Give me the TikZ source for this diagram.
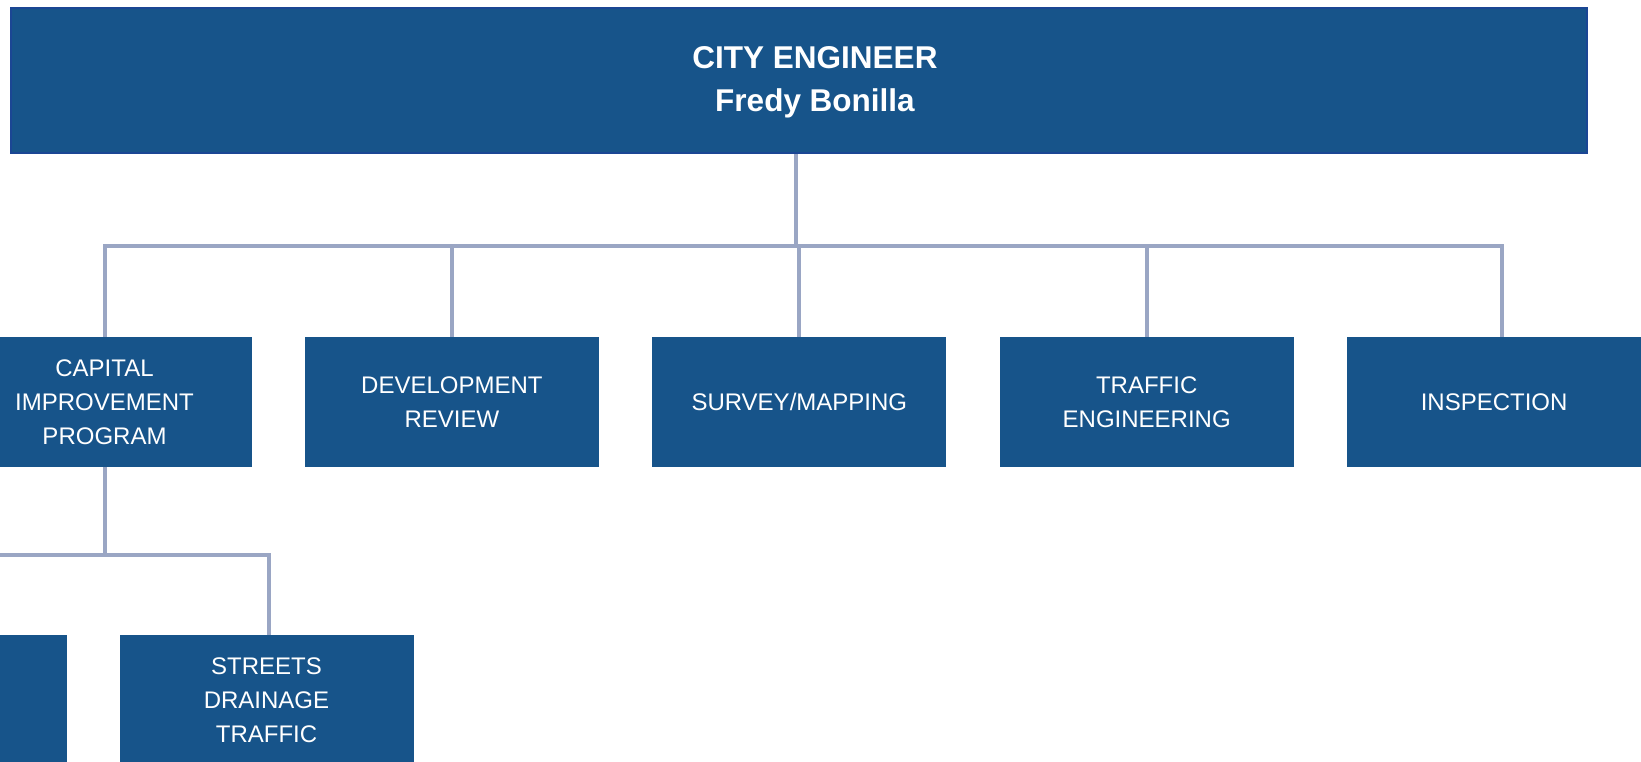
\documentclass[tikz,border=0pt]{standalone}
\usepackage{fontspec}
\setmainfont{Liberation Sans}
\usetikzlibrary{positioning}
\definecolor{boxblue}{RGB}{23,84,138}
\definecolor{edgeblue}{RGB}{27,70,148}
\definecolor{linegray}{RGB}{154,166,196}
\tikzset{
unit/.style={fill=boxblue,text=white,minimum width=294pt,minimum height=130pt,inner sep=0pt,align=center,font=\fontsize{24}{34}\selectfont},
link/.style={draw=linegray,line width=4pt}
}
\begin{document}
\begin{tikzpicture}[x=1pt,y=-1pt]
\useasboundingbox(0,0)rectangle(1641,761);
\clip(0,0)rectangle(1641,761);
\node[fill=boxblue,draw=edgeblue,line width=2pt,minimum width=1576pt,minimum height=145pt,inner sep=0pt](chief)at(799,80.5){};
\node[text=white,align=center,font=\bfseries\fontsize{31.5}{43}\selectfont](chieftxt)at(815,82){CITY ENGINEER\\Fredy Bonilla};
\node[unit](cip)at(104.5,402){CAPITAL\\IMPROVEMENT\\PROGRAM};
\node[unit,right=53pt of cip](dev){DEVELOPMENT\\REVIEW};
\node[unit,right=53pt of dev](surv){SURVEY/MAPPING};
\node[unit,right=53pt of surv](traf){TRAFFIC\\ENGINEERING};
\node[unit,right=53pt of traf](insp){INSPECTION};
\node[unit](str)at(266.5,700){STREETS\\DRAINAGE\\TRAFFIC};
\node[unit,left=52pt of str](sub){};
\coordinate(bus)at(796,246);
\coordinate(bus2)at(104,555);
\draw[link](bus|-chief.south)--(bus);
\draw[link](cip.north)|-(bus)-|([xshift=8pt]insp.north);
\foreach \n in{dev,surv,traf}
{\draw[link](\n.north)--(\n.north|-bus);}
\draw[link](cip.south)--(cip.south|-bus2);
\draw[link](sub.north)|-(bus2)-|([xshift=2.5pt]str.north);
\end{tikzpicture}
\end{document}
